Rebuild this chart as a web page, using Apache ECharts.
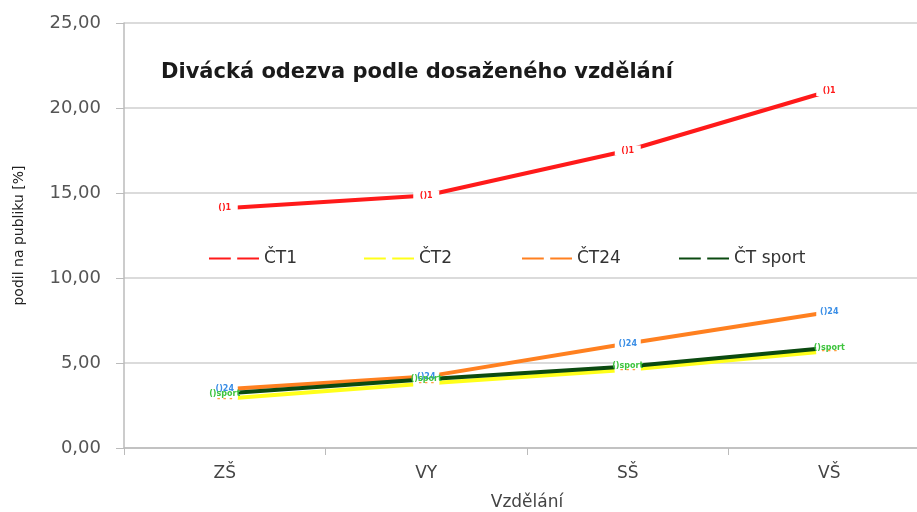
<!DOCTYPE html>
<html>
<head>
<meta charset="utf-8">
<script src="https://cdn.jsdelivr.net/npm/echarts@6/dist/echarts.min.js"></script>
<style>
html, body { margin: 0; padding: 0; background: #fff; }
#chart { width: 917px; height: 512px; }
</style>
</head>
<body>
<div id="chart"></div>
<script>
// kategorie (vzdělání)
const categories = ['ZŠ', 'VY', 'SŠ', 'VŠ'];
// hodnoty podílu na publiku [%]
const ct1 = [14.1, 14.85, 17.5, 21.0];
const ct2 = [2.9, 3.8, 4.6, 5.7];
const ct24 = [3.45, 4.2, 6.15, 8.0];
const ctSport = [3.2, 4.05, 4.8, 5.9];
const yTicks = [0, 5, 10, 15, 20, 25];

const font = 'DejaVu Sans';
const chart = echarts.init(document.getElementById('chart'));

// série s malými "logy" na bodech
function makeSeries(name, data, color, logo, logoColor) {
	return {
		name: name,
		type: 'line',
		data: data,
		lineStyle: { color: color, width: 4 },
		itemStyle: { color: '#fff', borderWidth: 0 },
		symbol: 'rect',
		symbolSize: [26, 10],
		label: {
			show: true,
			position: 'inside',
			formatter: logo,
			color: logoColor,
			fontSize: 8,
			fontWeight: 'bold',
			fontFamily: font
		},
		emphasis: { disabled: true }
	};
}

function legendAt(name, left) {
	return {
		data: [name],
		left: left,
		top: 245,
		itemWidth: 50,
		itemHeight: 8,
		itemGap: 4,
		textStyle: { fontSize: 17, color: '#333', fontFamily: font }
	};
}

const option = {
	animation: false,
	title: {
		text: 'Divácká odezva podle dosaženého vzdělání',
		left: 156,
		top: 57,
		textStyle: { fontSize: 21, fontWeight: 'bold', color: '#1a1a1a', fontFamily: font }
	},
	legend: [
		legendAt('ČT1', 203),
		legendAt('ČT2', 358),
		legendAt('ČT24', 516),
		legendAt('ČT sport', 673)
	],
	grid: { left: 124, width: 806, top: 23, bottom: 64, containLabel: false, outerBoundsMode: 'none' },
	xAxis: {
		type: 'category',
		data: categories,
		boundaryGap: true,
		name: 'Vzdělání',
		nameLocation: 'middle',
		nameGap: 46,
		nameTextStyle: { fontSize: 17, color: '#444', fontFamily: font },
		axisLine: { lineStyle: { color: '#bbb', width: 1.5 } },
		axisTick: { show: true, length: 7, lineStyle: { color: '#bbb' } },
		axisLabel: { fontSize: 17, color: '#444', margin: 17, fontFamily: font }
	},
	yAxis: {
		type: 'value',
		min: yTicks[0],
		max: yTicks[yTicks.length - 1],
		interval: 5,
		name: 'podil na publiku [%]',
		nameLocation: 'middle',
		nameGap: 98,
		nameTextStyle: { fontSize: 14, color: '#222', fontFamily: font },
		axisLine: { show: true, lineStyle: { color: '#bbb', width: 1.5 } },
		axisTick: { show: true, length: 8, lineStyle: { color: '#bbb' } },
		axisLabel: {
			fontSize: 18,
			color: '#555',
			margin: 23,
			fontFamily: font,
			formatter: v => v.toFixed(2).replace('.', ',')
		},
		splitLine: { lineStyle: { color: '#cfcfcf', width: 1.5 } }
	},
	series: [
		makeSeries('ČT1', ct1, '#ff1a1a', '()1', '#ff1a1a'),
		makeSeries('ČT2', ct2, '#ffff1a', '- - -', '#ffa040'),
		makeSeries('ČT24', ct24, '#ff8020', '()24', '#3a8ee6'),
		makeSeries('ČT sport', ctSport, '#0b4a10', '()sport', '#3ec43e')
	]
};
chart.setOption(option);
</script>
</body>
</html>
